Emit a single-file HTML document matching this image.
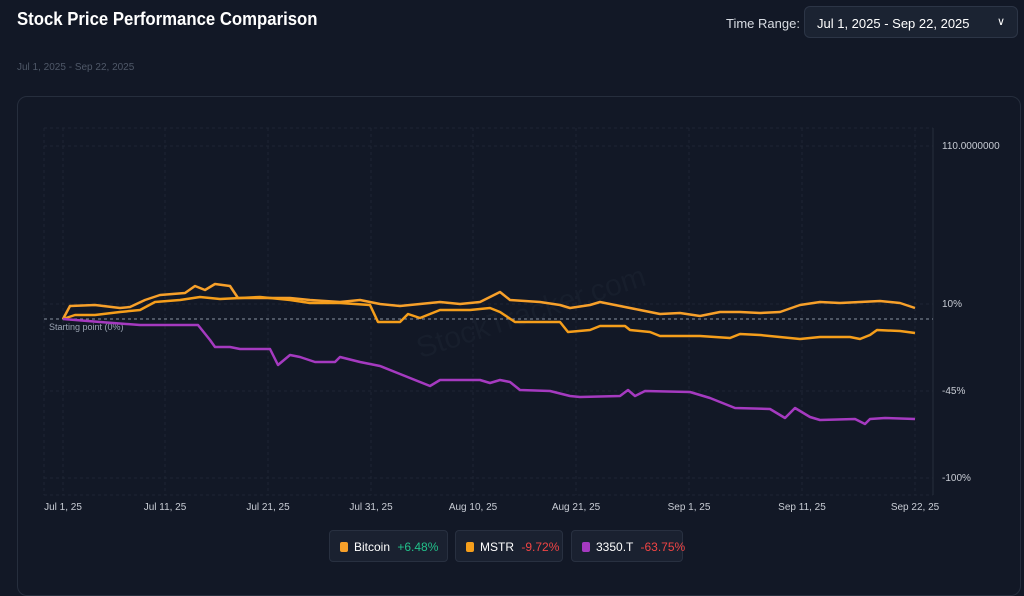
<!DOCTYPE html>
<html><head><meta charset="utf-8"><style>
body{margin:0;width:1024px;height:581px;background:#121826;font-family:"Liberation Sans",sans-serif;overflow:hidden;position:relative;color:#fff}
.t{position:absolute;left:17px;top:9px;font-size:18px;font-weight:bold;transform:scaleX(0.93);transform-origin:0 0}
.s{position:absolute;left:17px;top:62px;font-size:10px;color:#4f5868}
.tr{position:absolute;left:726px;top:16px;font-size:13px;color:#d8dce3}
.sel{position:absolute;left:804px;top:6px;width:214px;height:32px;border:1px solid #2c3546;border-radius:6px;background:#1b2332;box-sizing:border-box;font-size:13px;color:#fff;padding:9px 0 0 12px}
.card{position:absolute;left:17px;top:96px;width:1004px;height:500px;border:1px solid #262e3d;border-radius:10px;box-sizing:border-box}
.lg{position:absolute;top:530px;height:32px;border:1px solid #283040;border-radius:4px;background:#1a2130;box-sizing:border-box;font-size:12px;padding:9px 8px 0 10px;white-space:nowrap}
.sq{display:inline-block;width:8px;height:10px;border-radius:2px;margin-right:6px;vertical-align:-1px}
</style></head><body>
<div class="t">Stock Price Performance Comparison</div>
<div class="s">Jul 1, 2025 - Sep 22, 2025</div>
<div class="tr">Time Range:</div>
<div class="sel">Jul 1, 2025 - Sep 22, 2025<span style="position:absolute;right:12px;top:8px;font-size:11px">&#8744;</span></div>
<div class="card"></div>
<svg style="position:absolute;left:0;top:0" width="1024" height="581">
<g stroke="#1e2534" stroke-dasharray="3,3" stroke-width="1">
<line x1="44" y1="128" x2="933" y2="128"/><line x1="44" y1="146" x2="933" y2="146"/><line x1="44" y1="304" x2="933" y2="304"/><line x1="44" y1="391" x2="933" y2="391"/><line x1="44" y1="478" x2="933" y2="478"/><line x1="44" y1="495" x2="933" y2="495"/>
<line x1="44" y1="128" x2="44" y2="495"/><line x1="63" y1="128" x2="63" y2="495"/><line x1="165" y1="128" x2="165" y2="495"/><line x1="268" y1="128" x2="268" y2="495"/><line x1="371" y1="128" x2="371" y2="495"/><line x1="473" y1="128" x2="473" y2="495"/><line x1="576" y1="128" x2="576" y2="495"/><line x1="689" y1="128" x2="689" y2="495"/><line x1="802" y1="128" x2="802" y2="495"/><line x1="915" y1="128" x2="915" y2="495"/>
</g>
<line x1="933" y1="128" x2="933" y2="495" stroke="#262e3c"/>
<text x="400" y="330" transform="rotate(-18 500 280)" font-size="30" fill="#171e2c">StockTracker.com</text>
<line x1="44" y1="319" x2="933" y2="319" stroke="#8a93a3" stroke-dasharray="3,3"/>
<text x="49" y="330" font-size="9" fill="#9aa3b2">Starting point (0%)</text>
<g font-size="10" fill="#c8ccd4">
<text x="942" y="149">110.0000000</text><text x="942" y="307">10%</text><text x="942" y="394">-45%</text><text x="942" y="481">-100%</text>
</g>
<g font-size="10" fill="#c8ccd4" text-anchor="middle">
<text x="63" y="510">Jul 1, 25</text><text x="165" y="510">Jul 11, 25</text><text x="268" y="510">Jul 21, 25</text><text x="371" y="510">Jul 31, 25</text><text x="473" y="510">Aug 10, 25</text><text x="576" y="510">Aug 21, 25</text><text x="689" y="510">Sep 1, 25</text><text x="802" y="510">Sep 11, 25</text><text x="915" y="510">Sep 22, 25</text>
</g>
<g fill="none" stroke-width="2.5" stroke-linejoin="round">
<polyline stroke="#f7a02a" points="63,319 70,306 95,305 120,308 130,307 145,300 160,295 185,293 195,286 205,290 215,284 230,286 238,298 270,298 290,298 310,300 340,302 360,300 380,304 400,306 420,304 440,302 460,304 480,302 500,292 510,300 540,302 560,305 570,308 590,305 600,302 620,306 640,310 660,314 680,313 700,316 720,312 740,312 760,313 780,312 800,305 820,302 840,303 860,302 880,301 900,303 915,308"/>
<polyline stroke="#f59e1b" points="63,319 75,315 95,315 120,312 140,310 155,302 180,300 200,297 220,299 240,298 260,297 290,300 310,303 340,303 370,305 378,322 400,322 408,314 420,318 440,310 470,310 490,308 500,312 515,322 540,322 560,322 568,332 590,330 600,326 625,326 630,330 650,332 660,336 700,336 730,338 740,334 760,335 800,339 820,337 850,337 860,339 870,335 877,330 900,331 915,333"/>
<polyline stroke="#a53ac0" points="63,319 100,322 140,325 160,325 198,325 210,340 215,347 230,347 240,349 270,349 278,365 290,355 300,357 315,362 335,362 340,357 360,362 380,366 400,374 430,386 440,380 480,380 490,383 500,380 510,382 520,390 550,391 570,396 580,397 620,396 628,390 635,396 645,391 690,392 710,398 735,408 770,409 785,418 795,408 810,417 820,420 855,419 865,424 870,419 885,418 915,419"/>
</g>
</svg>
<div class="lg" style="left:329px;width:119px"><span class="sq" style="background:#f7a02a"></span>Bitcoin <span style="color:#22c08a;margin-left:4px">+6.48%</span></div>
<div class="lg" style="left:455px;width:108px"><span class="sq" style="background:#f59e1b"></span>MSTR <span style="color:#ef4444;margin-left:4px">-9.72%</span></div>
<div class="lg" style="left:571px;width:112px"><span class="sq" style="background:#a53ac0"></span>3350.T <span style="color:#ef4444;margin-left:4px">-63.75%</span></div>
</body></html>
